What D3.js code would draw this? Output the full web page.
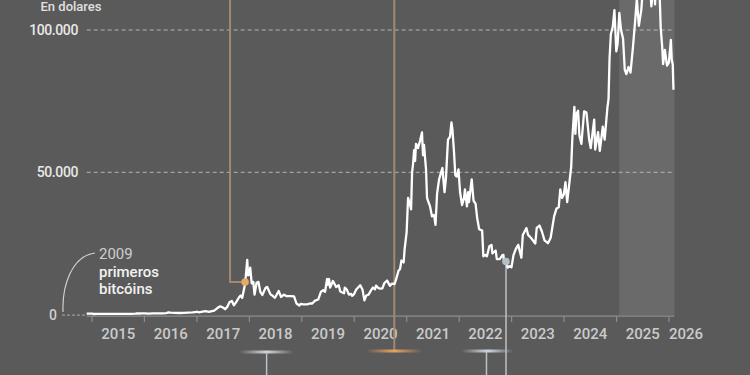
<!DOCTYPE html>
<html><head><meta charset="utf-8">
<script src="https://cdn.jsdelivr.net/npm/d3@7"></script>
<style>
html,body{margin:0;padding:0;background:#5a5a5a;}
svg{display:block;}
text{font-family:Roboto,"Open Sans",sans-serif;}
</style></head>
<body>
<svg id="c" width="750" height="375"></svg>
<script>
// ---- data ----
const dates = [
"2014-11-25","2015-01-01","2015-01-15","2015-02-01","2015-03-01","2015-04-01","2015-05-01","2015-06-01","2015-07-01","2015-08-01","2015-09-01","2015-10-01","2015-11-01","2015-11-05","2015-12-01","2015-12-15",
"2016-01-01","2016-02-01","2016-03-01","2016-04-01","2016-05-01","2016-06-01","2016-06-17","2016-07-01","2016-08-01","2016-09-01","2016-10-01","2016-11-01","2016-12-01","2016-12-20",
"2017-01-01","2017-01-15","2017-02-01","2017-03-01","2017-03-25","2017-04-15","2017-05-01","2017-05-25","2017-06-12","2017-07-01","2017-07-16","2017-08-01","2017-08-15","2017-09-01","2017-09-15","2017-10-01","2017-10-20","2017-11-01","2017-11-12","2017-11-28","2017-12-07","2017-12-17","2017-12-23","2017-12-31",
"2018-01-07","2018-01-17","2018-01-28","2018-02-06","2018-02-20","2018-03-05","2018-03-18","2018-04-01","2018-04-24","2018-05-05","2018-05-28","2018-06-12","2018-06-28","2018-07-24","2018-08-10","2018-08-30","2018-09-15","2018-10-15","2018-11-08","2018-11-25","2018-12-15","2018-12-25",
"2019-01-10","2019-02-08","2019-02-25","2019-03-15","2019-04-03","2019-04-25","2019-05-14","2019-05-30","2019-06-12","2019-06-26","2019-07-02","2019-07-10","2019-07-17","2019-08-06","2019-08-28","2019-09-15","2019-09-26","2019-10-22","2019-10-27","2019-11-10","2019-11-25","2019-12-10","2019-12-18","2019-12-31",
"2020-01-15","2020-02-12","2020-02-28","2020-03-12","2020-03-25","2020-04-10","2020-04-30","2020-05-10","2020-05-25","2020-06-01","2020-06-15","2020-06-30","2020-07-15","2020-07-28","2020-08-17","2020-09-05","2020-09-20","2020-10-08","2020-10-21","2020-11-05","2020-11-15","2020-11-25","2020-12-10","2020-12-17","2020-12-31",
"2021-01-10","2021-01-24","2021-01-31","2021-02-07","2021-02-14","2021-02-21","2021-02-28","2021-03-06","2021-03-20","2021-04-03","2021-04-17","2021-04-24","2021-05-01","2021-05-15","2021-05-22","2021-05-29","2021-06-12","2021-06-26","2021-07-10","2021-07-20","2021-07-31","2021-08-14","2021-08-28","2021-09-06","2021-09-21","2021-10-01","2021-10-08","2021-10-15","2021-10-29","2021-11-08","2021-11-15","2021-11-26","2021-12-05","2021-12-15","2021-12-27",
"2022-01-07","2022-01-21","2022-02-04","2022-02-10","2022-02-24","2022-03-04","2022-03-10","2022-03-29","2022-04-11","2022-04-25","2022-05-06","2022-05-20","2022-06-10","2022-06-18","2022-07-01","2022-07-13","2022-07-30","2022-08-14","2022-08-20","2022-09-12","2022-09-20","2022-10-10","2022-10-28","2022-11-05","2022-11-09","2022-11-22","2022-12-05","2022-12-20","2022-12-31",
"2023-01-14","2023-01-30","2023-02-16","2023-03-10","2023-03-20","2023-04-14","2023-04-26","2023-05-15","2023-06-15","2023-06-25","2023-07-14","2023-07-31","2023-08-18","2023-09-11","2023-09-30","2023-10-24","2023-11-10","2023-11-25","2023-12-06","2023-12-18","2023-12-31",
"2024-01-11","2024-01-23","2024-02-10","2024-02-20","2024-02-28","2024-03-13","2024-03-20","2024-03-27","2024-04-08","2024-04-17","2024-05-01","2024-05-20","2024-06-05","2024-06-24","2024-07-05","2024-07-29","2024-08-05","2024-08-25","2024-09-06","2024-09-27","2024-10-10","2024-10-29","2024-11-06","2024-11-13","2024-11-22","2024-12-05","2024-12-17","2024-12-30",
"2025-01-08","2025-01-20","2025-02-01","2025-02-15","2025-02-27","2025-03-10","2025-03-25","2025-04-08","2025-04-25","2025-05-10","2025-05-22","2025-06-05","2025-06-22","2025-07-14","2025-07-31","2025-08-14","2025-08-31","2025-09-18","2025-09-26","2025-10-06","2025-10-10","2025-10-27","2025-11-04","2025-11-14","2025-11-21","2025-12-03","2025-12-18","2025-12-31",
"2026-01-14","2026-01-20","2026-01-27","2026-02-01"
];
const prices = [
370,315,210,230,250,245,235,225,260,280,230,240,320,400,380,450,
430,370,430,420,450,530,750,670,600,570,610,710,750,900,
1000,820,980,1200,950,1200,1400,2400,2900,2500,1900,2800,4300,4800,3300,4400,6000,6700,5900,9800,13500,19200,13800,14000,
16500,11000,11500,7000,11200,11500,8000,6900,9400,9700,7100,6600,5900,8300,6200,7000,6500,6500,6400,3900,3200,3800,
3600,3600,3900,3900,4900,5300,8000,8600,8000,12500,10500,12500,9500,11800,9700,10300,8100,7500,9500,8800,7000,7300,6600,7200,
8800,10300,8700,5000,6700,7000,8800,9500,8900,10200,9400,9100,9200,11000,12000,10100,10900,10700,12800,15500,16000,19000,18300,23000,29000,
41000,38500,37000,50000,53000,57800,54000,60000,58500,61000,64000,56000,59600,51000,41000,40000,38000,34500,35000,31500,42500,47500,50000,51500,43000,48000,55000,61500,62500,67500,65000,57000,49000,48500,51000,
43000,38500,41000,44000,38000,43000,39500,47500,40000,39000,34000,30000,29500,20500,21000,20500,24000,24500,21500,22500,19500,19500,20800,21000,18500,18800,16500,17000,16600,
20900,23000,24500,20000,28000,30400,28000,27000,25000,30500,31300,29200,26100,25100,27000,34500,37300,37700,44000,41000,42300,
46500,39500,47500,52000,62000,73000,63500,70500,71600,63000,60000,71400,71000,61500,58500,68500,58000,64100,57500,66000,61500,72700,75800,90000,98500,101000,107000,92500,
95000,106000,100000,97000,86000,84500,87000,85000,94000,103000,111000,101500,107000,122000,115800,123500,108300,117000,109000,125000,112000,114000,101000,94500,88000,93000,87500,88500,
96500,89500,88000,79000
];
const yTicks = [0, 50000, 100000];
const yTickLabels = ["0", "50.000", "100.000"];
const years = [2015,2016,2017,2018,2019,2020,2021,2022,2023,2024,2025,2026];
const shadeStart = "2025-01-20";
const calloutDates = ["2017-12-02", "2020-10-06", "2022-11-23"];

// ---- drawing ----
const parse = d3.timeParse("%Y-%m-%d");
const data = dates.map((d,i)=>({date:parse(d), v:prices[i]}));
const svg = d3.select("#c");
const W = 750, H = 375;
const x = d3.scaleTime().domain([new Date(2015,0,1), new Date(2026,0,1)]).range([92, 669]);
const y = d3.scaleLinear().domain([0, 100000]).range([314.6, 30]);
const x0 = x(data[0].date), x1 = x(data[data.length-1].date);
const yBase = y(0);

svg.append("rect").attr("width",W).attr("height",H).attr("fill","#5a5a5a");

// shaded period
svg.append("rect").attr("x", x(parse(shadeStart))).attr("y", 0)
  .attr("width", x1 + 1 - x(parse(shadeStart))).attr("height", yBase + 1)
  .attr("fill", "#6a6a6a");

// defs for glow bars
const defs = svg.append("defs");
function grad(id, col){
  const g = defs.append("linearGradient").attr("id", id);
  g.append("stop").attr("offset","0%").attr("stop-color",col).attr("stop-opacity",0);
  g.append("stop").attr("offset","50%").attr("stop-color",col).attr("stop-opacity",1);
  g.append("stop").attr("offset","100%").attr("stop-color",col).attr("stop-opacity",0);
}
grad("gOr", "#e6a35e");
grad("gGr", "#d0d8de");

// gridlines
yTicks.forEach((t,i)=>{
  if (t > 0) {
    svg.append("line").attr("x1", x0).attr("x2", x1).attr("y1", y(t)).attr("y2", y(t))
      .attr("stroke", "#b4b4b4").attr("stroke-width", 1).attr("stroke-dasharray", "4,3");
  }
  svg.append("text").attr("x", i === 0 ? 57 : 78).attr("y", y(t) + 5)
    .attr("text-anchor", "end").attr("font-size", 14).attr("font-weight", 500)
    .attr("letter-spacing", i === 0 ? 0 : -0.4)
    .attr("fill", i === 0 ? "#cfcfcf" : "#e8e8e8").text(yTickLabels[i]);
});

// dashed zero segment (2009 -> 2014)
svg.append("line").attr("x1", 62).attr("x2", x0).attr("y1", yBase + 0.5).attr("y2", yBase + 0.5)
  .attr("stroke", "#9a9a9a").attr("stroke-width", 1.2).attr("stroke-dasharray", "3,2");

// axis
const axisY = yBase + 1.5;
svg.append("line").attr("x1", x0).attr("x2", x1 + 1).attr("y1", axisY).attr("y2", axisY)
  .attr("stroke", "#8c8c8c").attr("stroke-width", 1.2);
years.forEach((yr,i)=>{
  const xt = x(new Date(yr,0,1));
  svg.append("line").attr("x1", xt).attr("x2", xt).attr("y1", axisY).attr("y2", axisY + 6)
    .attr("stroke", "#8c8c8c").attr("stroke-width", 1.2);
  const xc = i < years.length - 1 ? (xt + x(new Date(yr+1,0,1))) / 2 : xt + 17;
  svg.append("text").attr("x", xc).attr("y", 339).attr("text-anchor", "middle")
    .attr("font-size", 15).attr("font-weight", 500).attr("fill", "#cacaca").text(yr);
});

// "En dolares"
svg.append("text").attr("x", 71).attr("y", 11).attr("text-anchor", "middle")
  .attr("font-size", 13).attr("font-weight", 500).attr("fill", "#e0e0e0").text("En dolares");

// 2009 annotation
svg.append("path").attr("d", "M63,312 C62,285 72,256 95,253")
  .attr("fill", "none").attr("stroke", "#cfcfcf").attr("stroke-width", 1.2);
svg.append("text").attr("x", 99).attr("y", 259).attr("font-size", 15).attr("fill", "#cfcfcf").text("2009");
svg.append("text").attr("x", 99).attr("y", 276.5).attr("font-size", 15).attr("font-weight", 500).attr("fill", "#f2f2f2").text("primeros");
svg.append("text").attr("x", 99).attr("y", 293.5).attr("font-size", 15).attr("font-weight", 500).attr("fill", "#f2f2f2").text("bitcóins");

// interpolate value at date
function valAt(dt){
  const bis = d3.bisector(d=>d.date).left;
  const i = bis(data, dt);
  if (i <= 0) return data[0].v;
  const a = data[i-1], b = data[i];
  const f = (dt - a.date) / (b.date - a.date);
  return a.v + (b.v - a.v) * f;
}

// callout leaders (behind line)
const c1 = parse(calloutDates[0]), c2 = parse(calloutDates[1]), c3 = parse(calloutDates[2]);
const c1x = x(c1), c1y = y(valAt(c1));
svg.append("path").attr("d", `M${c1x-15},0 V${c1y} H${c1x}`)
  .attr("fill","none").attr("stroke","#a08a73").attr("stroke-width",2);
const c2x = x(c2);
svg.append("line").attr("x1", c2x).attr("x2", c2x).attr("y1", 0).attr("y2", 351)
  .attr("stroke","#a08a73").attr("stroke-width",2);
svg.append("rect").attr("x", c2x - 28).attr("y", 349.5).attr("width", 56).attr("height", 3).attr("fill","url(#gOr)");
// grey glow bars beneath axis
const g1x = x(parse("2018-05-01")), g3x = x(parse("2022-07-10"));
svg.append("rect").attr("x", g1x - 27).attr("y", 350.5).attr("width", 54).attr("height", 3).attr("fill","url(#gGr)");
svg.append("line").attr("x1", g1x).attr("x2", g1x).attr("y1", 352).attr("y2", H).attr("stroke","#b9c2c8").attr("stroke-width",1.5);
svg.append("rect").attr("x", g3x - 25).attr("y", 349.5).attr("width", 52).attr("height", 3).attr("fill","url(#gGr)");
svg.append("line").attr("x1", g3x).attr("x2", g3x).attr("y1", 351).attr("y2", H).attr("stroke","#b9c2c8").attr("stroke-width",1.5);
const c3x = x(c3), c3y = y(valAt(c3));
svg.append("line").attr("x1", c3x).attr("x2", c3x).attr("y1", c3y).attr("y2", H)
  .attr("stroke","#b9c2c8").attr("stroke-width",1.5);

// price line
const line = d3.line().x(d=>x(d.date)).y(d=>y(d.v)).curve(d3.curveLinear);
svg.append("path").datum(data).attr("d", line).attr("fill","none")
  .attr("stroke","#ffffff").attr("stroke-width",2.3).attr("stroke-linejoin","round");

// dots
svg.append("circle").attr("cx", c1x).attr("cy", c1y).attr("r", 3.8).attr("fill", "#e8a868");
svg.append("circle").attr("cx", c3x).attr("cy", c3y).attr("r", 3.8).attr("fill", "#b4c0c8");
</script>
</body></html>
